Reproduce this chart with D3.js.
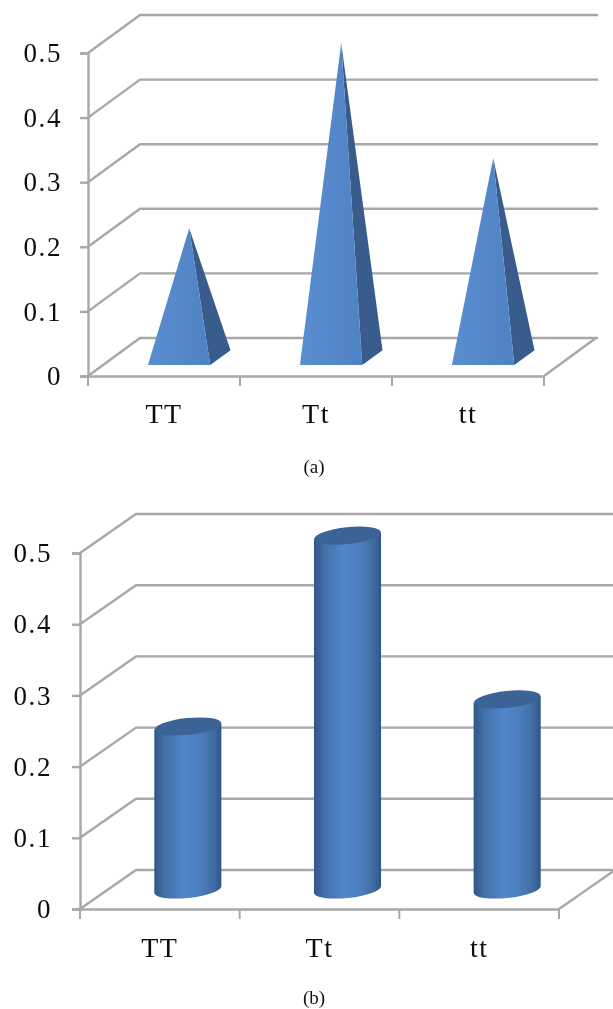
<!DOCTYPE html>
<html>
<head>
<meta charset="utf-8">
<script src="https://cdn.jsdelivr.net/npm/d3@7"></script>
<style>
  html, body { margin: 0; padding: 0; background: #fff; overflow: hidden; }
  text { font-family: "Liberation Serif", serif; fill: #111; }
</style>
</head>
<body>
<div id="chart"></div>
<script>
// values
const categories = ['TT', 'Tt', 'tt'];
const pyramidValues = [0.2, 0.487, 0.309];
const cylinderValues = [0.229, 0.497, 0.267];
const yTicks = [0, 0.1, 0.2, 0.3, 0.4, 0.5];

const lineColor = '#a8a8a8';

const svg = d3.select('#chart').append('svg')
    .attr('width', 613)
    .attr('height', 1009);

const defs = svg.append('defs');
defs.append('filter').attr('id', 'soft')
    .append('feGaussianBlur').attr('stdDeviation', 0.65);

const cylGrad = defs.append('linearGradient').attr('id', 'cylBody');
[[0, '#2f5687'], [0.15, '#426fa8'], [0.45, '#5287cb'], [0.7, '#4c7dbc'], [0.9, '#3e6a9f'], [1, '#2f5687']]
    .forEach(s => cylGrad.append('stop').attr('offset', s[0]).attr('stop-color', s[1]));

const pyrGrad = defs.append('linearGradient').attr('id', 'pyrFront');
[[0, '#5b8ed0'], [1, '#4f82c3']]
    .forEach(s => pyrGrad.append('stop').attr('offset', s[0]).attr('stop-color', s[1]));

// builds the 3D frame (floor, back wall, axes) and returns scales plus a projector
function drawFrame(g, o) {
    const y = d3.scaleLinear().domain([0, 0.5]).range([o.y0, o.y5]);
    const x = d3.scaleBand().domain(categories).range([o.x0, o.x1]);
    // d is the depth into the chart, 0 = front plane, 1 = back wall
    const project = (px, v, d) => [px + o.dx * d, y(v) - o.dy * d];

    const grid = g.append('g')
        .attr('fill', 'none')
        .attr('stroke', lineColor)
        .attr('stroke-width', 2.4);

    // slanted wall lines and back wall lines
    grid.selectAll('path.wall')
        .data(yTicks)
        .enter().append('path')
        .attr('class', 'wall')
        .attr('d', t => d3.line()([project(o.x0, t, 0), project(o.x0, t, 1), [o.right, project(o.x0, t, 1)[1]]]));

    // floor edge on the right
    grid.append('path')
        .attr('d', d3.line()([project(o.x1, 0, 0), project(o.x1, 0, 1)]));

    // y axis
    const yAxis = d3.axisLeft(y)
        .tickValues(yTicks)
        .tickSize(8)
        .tickPadding(o.yPad)
        .tickFormat(d => d === 0 ? '0' : d3.format('.1f')(d));
    const ya = g.append('g').attr('transform', `translate(${o.x0},0)`).call(yAxis);
    ya.selectAll('line, path').attr('stroke', lineColor).attr('stroke-width', 2.4);
    ya.selectAll('text')
        .attr('font-size', 27)
        .attr('letter-spacing', 1.6);

    // x axis: ticks sit on the band edges, labels in the middle
    const xa = g.append('g').attr('transform', `translate(0,${o.y0})`);
    xa.call(d3.axisBottom(x).tickSize(0).tickPadding(o.xPad));
    xa.select('.domain').attr('stroke', lineColor).attr('stroke-width', 2.4);
    xa.selectAll('text')
        .attr('font-size', 28)
        .attr('letter-spacing', 1.5);
    const edges = categories.map(c => x(c)).concat([o.x1]);
    xa.selectAll('line.edge')
        .data(edges)
        .enter().append('line')
        .attr('class', 'edge')
        .attr('x1', d => d).attr('x2', d => d)
        .attr('y1', 0).attr('y2', 10)
        .attr('stroke', lineColor)
        .attr('stroke-width', 2);

    return { x, y, project };
}

// chart (a): pyramids
const ga = svg.append('g').attr('filter', 'url(#soft)');
const frameA = drawFrame(ga, { x0: 88, x1: 544, y0: 376, y5: 53, dx: 52, dy: 38, right: 598, yPad: 18, xPad: 27 });

const pyr = ga.selectAll('g.pyr')
    .data(categories.map((c, i) => ({ c, v: pyramidValues[i] })))
    .enter().append('g').attr('class', 'pyr');

const pyrHalf = frameA.x.bandwidth() * 0.205;
const pyrMid = c => frameA.x(c) + frameA.x.bandwidth() / 2;

pyr.append('path')
    .attr('fill', '#375c8b')
    .attr('d', d => d3.line()([
        frameA.project(pyrMid(d.c) + pyrHalf, 0, 0.29),
        frameA.project(pyrMid(d.c) + pyrHalf, 0, 0.68),
        frameA.project(pyrMid(d.c), d.v, 0.485)
    ]) + 'Z');

pyr.append('path')
    .attr('fill', 'url(#pyrFront)')
    .attr('d', d => d3.line()([
        frameA.project(pyrMid(d.c) - pyrHalf, 0, 0.29),
        frameA.project(pyrMid(d.c) + pyrHalf, 0, 0.29),
        frameA.project(pyrMid(d.c), d.v, 0.485)
    ]) + 'Z');

// chart (b): cylinders
const gb = svg.append('g').attr('filter', 'url(#soft)');
const frameB = drawFrame(gb, { x0: 80, x1: 559, y0: 909, y5: 553, dx: 56, dy: 39, right: 613, yPad: 20, xPad: 28 });

const cyl = gb.selectAll('g.cyl')
    .data(categories.map((c, i) => ({ c, v: cylinderValues[i] })))
    .enter().append('g').attr('class', 'cyl');

const rx = frameB.x.bandwidth() * 0.21;
const ry = 8.4;
const tilt = -6;
const tiltRise = rx * Math.sin(-tilt * Math.PI / 180);
const cylMid = c => frameB.x(c) + frameB.x.bandwidth() / 2;

cyl.append('path')
    .attr('fill', 'url(#cylBody)')
    .attr('d', d => {
        const top = frameB.project(cylMid(d.c), d.v, 0.5);
        const bot = frameB.project(cylMid(d.c), 0, 0.5);
        return `M${top[0] - rx},${top[1] + tiltRise}` +
            `L${bot[0] - rx},${bot[1] + tiltRise}` +
            `A${rx},${ry} ${tilt} 0 0 ${bot[0] + rx},${bot[1] - tiltRise}` +
            `L${top[0] + rx},${top[1] - tiltRise}Z`;
    });

cyl.append('ellipse')
    .attr('fill', '#3b6395')
    .attr('rx', rx)
    .attr('ry', ry)
    .attr('transform', d => {
        const top = frameB.project(cylMid(d.c), d.v, 0.5);
        return `translate(${top[0]},${top[1]}) rotate(${tilt})`;
    });

// captions
svg.append('text').attr('x', 314).attr('y', 473)
    .attr('text-anchor', 'middle').attr('font-size', 19).text('(a)');
svg.append('text').attr('x', 314).attr('y', 1004)
    .attr('text-anchor', 'middle').attr('font-size', 19).text('(b)');
</script>
</body>
</html>
